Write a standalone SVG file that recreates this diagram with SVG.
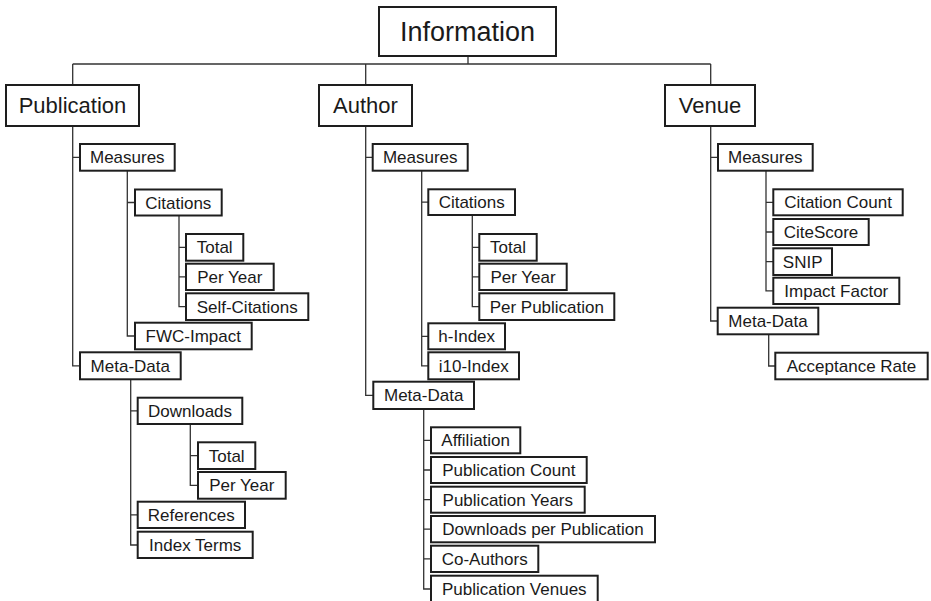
<svg xmlns="http://www.w3.org/2000/svg" width="931" height="601" viewBox="0 0 931 601">
<style>
  rect { fill: #fff; stroke: #1e1e1e; stroke-width: 2; }
  text { font-family: "Liberation Sans", Arial, sans-serif; fill: #1a1a1a; text-anchor: middle; }
  .big { font-size: 27px; }
  .mid { font-size: 22px; }
  .sm { font-size: 17px; }
  #connectors path { fill: none; stroke: #333; stroke-width: 1.3; }
</style>
<rect x="0" y="0" width="931" height="601" style="fill:#fff;stroke:none"/>
<g id="connectors">
  <path d="M468,56V64M72.7,64H710.7M72.7,64V85M365.7,64V85M710.7,64V85"/>
  <!-- Publication -->
  <path d="M72.7,126V365.8H80M72.7,157.3H80"/>
  <path d="M127.3,170.7V336H135M127.3,202.5H135"/>
  <path d="M179,215V306.7H186M179,247.3H186M179,276.8H186"/>
  <path d="M130.7,379.3V545H137.7M130.7,410.8H137.7M130.7,514.8H137.7"/>
  <path d="M190.3,424V485.3H198M190.3,455.7H198"/>
  <!-- Author -->
  <path d="M365.7,126V395.3H373.3M365.7,157.3H372.7"/>
  <path d="M421.7,170.7V365.8H428.3M421.7,202.2H428.3M421.7,336.3H428.3"/>
  <path d="M472.3,215V306.7H479.3M472.3,247.3H479.3M472.3,276.8H479.3"/>
  <path d="M423.7,409V589H431M423.7,440.3H431M423.7,470H431M423.7,499.7H431M423.7,529.2H431M423.7,558.8H431"/>
  <!-- Venue -->
  <path d="M710.7,126V321H717.7M710.7,157.3H718"/>
  <path d="M766,170.7V290.8H773.3M766,202.3H773.3M766,232H773.3M766,261.7H773.3"/>
  <path d="M768.7,334.3V366H775.3"/>
</g>

<g id="information"><rect x="379" y="7" width="177" height="49"/><text class="big" x="467.5" y="41.2">Information</text></g>

<g id="publication"><rect x="6" y="85" width="133" height="41"/><text class="mid" x="72.5" y="113.4">Publication</text></g>
<g id="pub-measures"><rect x="80" y="144" width="94.7" height="26.7"/><text class="sm" x="127.3" y="163.4">Measures</text></g>
<g id="pub-citations"><rect x="135" y="189.5" width="86.7" height="26"/><text class="sm" x="178.3" y="208.6">Citations</text></g>
<g id="pub-cit-total"><rect x="186" y="234" width="57.3" height="26.7"/><text class="sm" x="214.7" y="253.4">Total</text></g>
<g id="pub-cit-peryear"><rect x="186" y="263.7" width="87.7" height="26.3"/><text class="sm" x="229.8" y="282.9">Per Year</text></g>
<g id="pub-cit-self"><rect x="186" y="293.3" width="122.3" height="26.7"/><text class="sm" x="247.2" y="312.7">Self-Citations</text></g>
<g id="pub-fwc"><rect x="135" y="322.7" width="116.7" height="26.6"/><text class="sm" x="193.3" y="342.1">FWC-Impact</text></g>
<g id="pub-metadata"><rect x="80" y="352.3" width="100.7" height="27"/><text class="sm" x="130.3" y="371.9">Meta-Data</text></g>
<g id="pub-downloads"><rect x="137.7" y="397.7" width="104.6" height="26.3"/><text class="sm" x="190" y="416.9">Downloads</text></g>
<g id="pub-dl-total"><rect x="198" y="442.3" width="57.3" height="26.7"/><text class="sm" x="226.7" y="461.7">Total</text></g>
<g id="pub-dl-peryear"><rect x="198" y="472" width="87.7" height="26.7"/><text class="sm" x="241.8" y="491.4">Per Year</text></g>
<g id="pub-references"><rect x="137.7" y="501.7" width="107.3" height="26.3"/><text class="sm" x="191.3" y="520.9">References</text></g>
<g id="pub-indexterms"><rect x="137.7" y="531.7" width="115" height="26.3"/><text class="sm" x="195.2" y="550.9">Index Terms</text></g>

<g id="author"><rect x="319" y="85" width="93" height="41"/><text class="mid" x="365.5" y="113.4">Author</text></g>
<g id="auth-measures"><rect x="372.7" y="144" width="95" height="26.7"/><text class="sm" x="420.2" y="163.4">Measures</text></g>
<g id="auth-citations"><rect x="428.3" y="189.3" width="86.7" height="25.7"/><text class="sm" x="471.7" y="208.3">Citations</text></g>
<g id="auth-cit-total"><rect x="479.3" y="234" width="57.4" height="26.7"/><text class="sm" x="508" y="253.4">Total</text></g>
<g id="auth-cit-peryear"><rect x="479.3" y="263.7" width="87.4" height="26.3"/><text class="sm" x="523" y="282.9">Per Year</text></g>
<g id="auth-cit-perpub"><rect x="479.3" y="293.3" width="135" height="26.7"/><text class="sm" x="546.8" y="312.7">Per Publication</text></g>
<g id="auth-hindex"><rect x="428.3" y="323.3" width="76.7" height="26"/><text class="sm" x="466.7" y="342.4">h-Index</text></g>
<g id="auth-i10index"><rect x="428.3" y="352.3" width="90.7" height="27"/><text class="sm" x="473.7" y="371.9">i10-Index</text></g>
<g id="auth-metadata"><rect x="373.3" y="381.7" width="100.7" height="27.3"/><text class="sm" x="423.7" y="401.4">Meta-Data</text></g>
<g id="auth-affiliation"><rect x="431" y="427.3" width="89.3" height="26"/><text class="sm" x="475.7" y="446.4">Affiliation</text></g>
<g id="auth-pubcount"><rect x="431" y="457" width="155.7" height="26"/><text class="sm" x="508.8" y="476.1">Publication Count</text></g>
<g id="auth-pubyears"><rect x="431" y="486.7" width="153.7" height="26"/><text class="sm" x="507.8" y="505.8">Publication Years</text></g>
<g id="auth-dlperpub"><rect x="431" y="516" width="224" height="26.3"/><text class="sm" x="543" y="535.2">Downloads per Publication</text></g>
<g id="auth-coauthors"><rect x="431" y="545.7" width="107.3" height="26.3"/><text class="sm" x="484.7" y="564.9">Co-Authors</text></g>
<g id="auth-pubvenues"><rect x="431" y="575.7" width="166.7" height="30"/><text class="sm" x="514.3" y="595.1">Publication Venues</text></g>

<g id="venue"><rect x="665" y="85" width="90" height="41"/><text class="mid" x="710" y="113.4">Venue</text></g>
<g id="ven-measures"><rect x="718" y="144" width="94.7" height="26.7"/><text class="sm" x="765.3" y="163.4">Measures</text></g>
<g id="ven-citcount"><rect x="773.3" y="189.3" width="129.4" height="26"/><text class="sm" x="838" y="208.4">Citation Count</text></g>
<g id="ven-citescore"><rect x="773.3" y="219" width="95.4" height="26"/><text class="sm" x="821" y="238.1">CiteScore</text></g>
<g id="ven-snip"><rect x="773.3" y="248.3" width="58.7" height="26.7"/><text class="sm" x="802.7" y="267.7">SNIP</text></g>
<g id="ven-impact"><rect x="773.3" y="277.7" width="126" height="26.3"/><text class="sm" x="836.3" y="296.9">Impact Factor</text></g>
<g id="ven-metadata"><rect x="717.7" y="307.7" width="100.6" height="26.6"/><text class="sm" x="768" y="327.1">Meta-Data</text></g>
<g id="ven-acceptance"><rect x="775.3" y="352.7" width="152.4" height="26.6"/><text class="sm" x="851.5" y="372.1">Acceptance Rate</text></g>
</svg>
